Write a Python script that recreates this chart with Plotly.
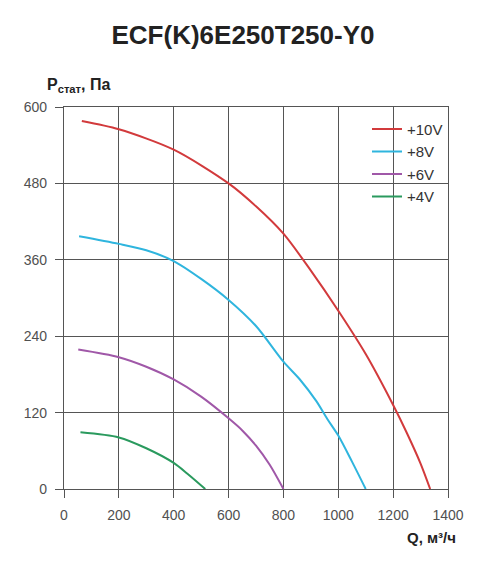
import plotly.graph_objects as go

# fan curves (Q in m3/h, P in Pa)
q_10v = [65, 200, 400, 600, 700, 800, 900, 1000, 1100, 1200, 1250, 1300, 1335]
p_10v = [578, 565, 533, 480, 444, 401, 343, 280, 212, 132, 88, 40, 0]

q_8v = [55, 200, 300, 400, 500, 600, 700, 800, 860, 920, 960, 1000, 1050, 1100]
p_8v = [397, 385, 375, 358, 330, 297, 256, 200, 172, 138, 110, 84, 43, 0]

q_6v = [52, 200, 300, 400, 500, 600, 650, 700, 750, 800]
p_6v = [219, 207, 192, 172, 145, 111, 92, 68, 38, 0]

q_4v = [60, 200, 300, 400, 450, 515]
p_4v = [89, 81, 64, 41, 24, 0]

names = ["+10V", "+8V", "+6V", "+4V"]
colors = ["#d23a3c", "#2fb5de", "#a058a8", "#2a9a5e"]

fig = go.Figure()
for q, p, name, col in zip([q_10v, q_8v, q_6v, q_4v],
                           [p_10v, p_8v, p_6v, p_4v], names, colors):
    fig.add_trace(go.Scatter(x=q, y=p, mode="lines", name=name,
                             line=dict(color=col, width=2, shape="spline", smoothing=0.8)))

axis_common = dict(showgrid=True, gridcolor="#555555", gridwidth=1.3,
                   showline=True, linecolor="#555555", linewidth=1.3, mirror=True,
                   ticks="outside", tickcolor="#555555", ticklen=8, tickwidth=1.3,
                   zeroline=False, ticklabelstandoff=5,
                   tickfont=dict(family="Liberation Sans, Arial", size=14, color="#505050"))

# the page puts the figure 8px in from the top-left corner, so margins are shifted
fig.update_layout(
    width=500, height=570,
    paper_bgcolor="white", plot_bgcolor="white",
    margin=dict(l=56, r=60, t=99, b=89),
    title=dict(text="<b>ECF(K)6E250T250-Y0</b>", x=0.47, xanchor="center", y=0.953, yanchor="middle",
               font=dict(family="Liberation Sans, Arial", size=26, color="#222222")),
    xaxis=dict(range=[0, 1400], tickvals=[0, 200, 400, 600, 800, 1000, 1200, 1400], **axis_common),
    yaxis=dict(range=[0, 600], tickvals=[0, 120, 240, 360, 480, 600], **axis_common),
    legend=dict(x=1.0, xanchor="right", y=0.985, yanchor="top", bgcolor="rgba(0,0,0,0)",
                font=dict(family="Liberation Sans, Arial", size=15, color="#333333"),
                itemwidth=30, tracegroupgap=0),
    showlegend=True,
    annotations=[
        dict(text="<b>P<sub>стат</sub>, Па</b>", xref="paper", yref="paper",
             x=-0.05, y=1.025, xanchor="left", yanchor="bottom", showarrow=False,
             font=dict(family="Liberation Sans, Arial", size=16, color="#222222")),
        dict(text="<b>Q, м³/ч</b>", xref="paper", yref="paper",
             x=1.027, y=-0.1, xanchor="right", yanchor="top", showarrow=False,
             font=dict(family="Liberation Sans, Arial", size=15, color="#222222")),
    ],
)

fig.write_html("out.html")
